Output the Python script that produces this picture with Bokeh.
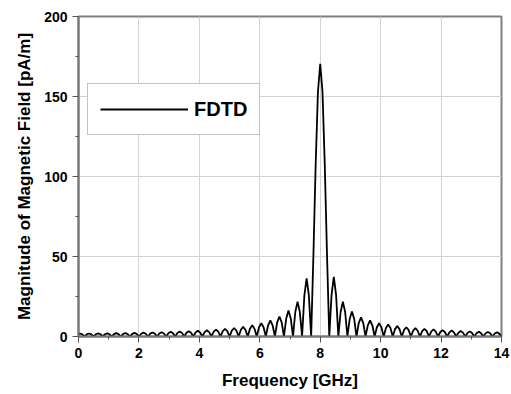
import numpy as np
from bokeh.plotting import figure
from bokeh.models import Range1d, Legend, LegendItem, FixedTicker
from bokeh.embed import file_html
from bokeh.resources import INLINE

# sample grid: nulls every 0.3 GHz, 4 samples per side lobe
freq_start = -0.1
freq_step = 0.075

# left side lobes (null, rise, peak, fall) from -0.1 GHz up to 7.7 GHz
left_lobes = [
    [0, 1.3, 1.9, 1.3], [0, 1.3, 1.9, 1.3], [0, 1.4, 2.0, 1.4], [0, 1.4, 2.0, 1.4],
    [0, 1.5, 2.1, 1.5], [0, 1.5, 2.2, 1.5], [0, 1.6, 2.3, 1.6], [0, 1.7, 2.4, 1.7],
    [0, 1.8, 2.5, 1.8], [0, 1.9, 2.7, 1.9], [0, 2.0, 2.9, 2.0], [0, 2.2, 3.1, 2.2],
    [0, 2.3, 3.3, 2.3], [0, 2.5, 3.6, 2.5], [0, 2.7, 3.9, 2.7], [0, 3.0, 4.3, 3.0],
    [0, 3.4, 4.8, 3.4], [0, 3.7, 5.3, 3.7], [0, 4.2, 6.0, 4.2], [0, 4.9, 7.0, 4.9],
    [0, 5.8, 8.3, 5.8], [0, 7.0, 10.0, 7.0], [0, 8.8, 12.5, 8.8], [0, 11.3, 16.2, 11.3],
    [0, 15.3, 21.8, 15.3], [0, 25.5, 36.4, 25.5],
]
# main lobe 7.7 .. 8.225 GHz
main_lobe = [0, 51, 108, 153, 170.5, 153, 108, 51]
# right side lobes from 8.3 GHz up to 14.0 GHz
right_lobes = [
    [0, 26.0, 37.2, 26.0], [0, 15.3, 21.8, 15.3], [0, 10.9, 15.6, 10.9], [0, 8.4, 12.0, 8.4],
    [0, 7.0, 10.0, 7.0], [0, 5.8, 8.3, 5.8], [0, 5.3, 7.5, 5.3], [0, 4.6, 6.5, 4.6],
    [0, 4.1, 5.8, 4.1], [0, 3.6, 5.2, 3.6], [0, 3.4, 4.8, 3.4], [0, 3.1, 4.4, 3.1],
    [0, 2.8, 4.0, 2.8], [0, 2.6, 3.7, 2.6], [0, 2.4, 3.4, 2.4], [0, 2.2, 3.2, 2.2],
    [0, 2.1, 3.0, 2.1], [0, 2.0, 2.8, 2.0], [0, 1.8, 2.6, 1.8],
]
end_value = [0]

x_ticks = [0, 2, 4, 6, 8, 10, 12, 14]
y_ticks = [0, 50, 100, 150, 200]

magnitude = [v for lobe in left_lobes for v in lobe] + main_lobe + \
            [v for lobe in right_lobes for v in lobe] + end_value
freq = [round(freq_start + freq_step * i, 4) for i in range(len(magnitude))]

FONT = "Liberation Sans"

p = figure(width=511, height=394, output_backend="svg", toolbar_location=None,
           x_range=Range1d(0, 14), y_range=Range1d(0, 200),
           min_border_left=78, min_border_right=10, min_border_top=16, min_border_bottom=58)

p.outline_line_color = "#808080"
p.outline_line_width = 2
p.background_fill_color = "white"
p.border_fill_color = "white"

r = p.line(freq, magnitude, line_color="black", line_width=1.8)

for ax in (p.xaxis[0], p.yaxis[0]):
    ax.axis_line_color = "#777777"
    ax.axis_line_width = 2
    ax.major_tick_line_color = "#555555"
    ax.minor_tick_line_color = "#555555"
    ax.major_tick_in = 0
    ax.major_tick_out = 6
    ax.minor_tick_in = 0
    ax.minor_tick_out = 3
    ax.major_label_text_font = FONT
    ax.major_label_text_font_style = "bold"
    ax.major_label_text_font_size = "14px"
    ax.major_label_text_color = "black"
    ax.axis_label_text_font = FONT
    ax.axis_label_text_font_style = "bold"
    ax.axis_label_text_font_size = "17px"
    ax.axis_label_text_color = "black"
    ax.major_label_standoff = 5

p.xaxis[0].ticker = FixedTicker(ticks=x_ticks, minor_ticks=list(range(0, 15)))
p.yaxis[0].ticker = FixedTicker(ticks=y_ticks, minor_ticks=list(range(0, 201, 25)))
p.xaxis[0].axis_label = "Frequency [GHz]"
p.yaxis[0].axis_label = "Magnitude of Magnetic Field [pA/m]"
p.xaxis[0].axis_label_standoff = 10
p.yaxis[0].axis_label_standoff = 7

p.xgrid.grid_line_color = "#d3d3d3"
p.ygrid.grid_line_color = "#d3d3d3"
p.xgrid.grid_line_width = 1
p.ygrid.grid_line_width = 1

legend = Legend(items=[LegendItem(label="FDTD", renderers=[r])],
                location=(9, 201), glyph_width=88, glyph_height=26,
                label_standoff=6, padding=12, margin=0, spacing=0,
                label_text_font=FONT, label_text_font_style="bold",
                label_text_font_size="20px", label_text_color="black",
                label_text_baseline="top",
                border_line_color="#888888", border_line_width=1,
                background_fill_alpha=1.0)
p.add_layout(legend, "center")

open("out.html", "w").write(file_html(p, INLINE))
